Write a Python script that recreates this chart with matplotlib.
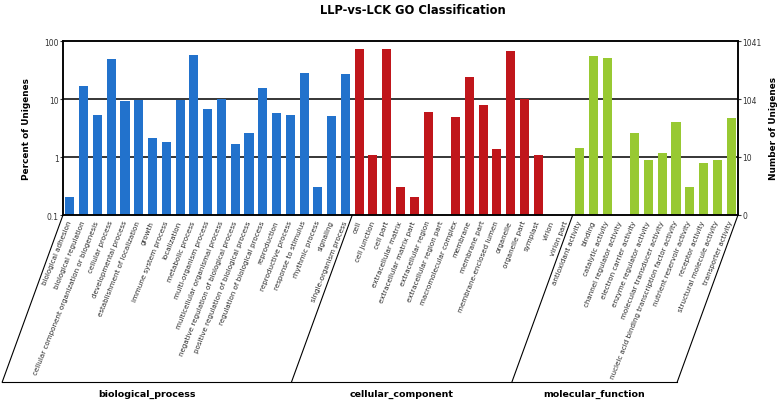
import numpy as np
import matplotlib
matplotlib.use("Agg")
from matplotlib import pyplot as plt
from matplotlib.lines import Line2D

plt.rcParams['font.family'] = ['DejaVu Sans']

total = 1041

bio_terms = ["biological adhesion", "biological regulation",
             "cellular component organization or biogenesis", "cellular process",
             "developmental process", "establishment of localization", "growth",
             "immune system process", "localization", "metabolic process",
             "multi-organism process", "multicellular organismal process",
             "negative regulation of biological process",
             "positive regulation of biological process",
             "regulation of biological process", "reproduction",
             "reproductive process", "response to stimulus", "rhythmic process",
             "signaling", "single-organism process"]
bio_counts = [2, 177, 54, 516, 97, 101, 22, 19, 101, 589, 69, 105, 17, 27,
              163, 60, 54, 292, 3, 52, 277]

cc_terms = ["cell", "cell junction", "cell part", "extracellular matrix",
            "extracellular matrix part", "extracellular region",
            "extracellular region part", "macromolecular complex", "membrane",
            "membrane part", "membrane-enclosed lumen", "organelle",
            "organelle part", "symplast", "virion", "virion part"]
cc_counts = [770, 11, 770, 3, 2, 63, 0, 50, 245, 82, 14, 708, 105, 11, 0, 0]

mf_terms = ["antioxidant activity", "binding", "catalytic activity",
            "channel regulator activity", "electron carrier activity",
            "enzyme regulator activity", "molecular transducer activity",
            "nucleic acid binding transcription factor activity",
            "nutrient reservoir activity", "receptor activity",
            "structural molecule activity", "transporter activity"]
mf_counts = [15, 566, 530, 0, 27, 9, 12, 41, 3, 8, 9, 48]

groups = ["biological_process", "cellular_component", "molecular_function"]
group_colors = ["#2272cc", "#c0161b", "#98c932"]

pct_ticks = [0.1, 1, 10, 100]
num_labels = ["0", "10", "104", "1041"]

W, H = 784, 406
fig = plt.figure(figsize=(W / 100, H / 100), dpi=100)
ax = fig.add_axes([63 / W, 1 - 216 / H, (738 - 63) / W, (216 - 42) / H])

terms = bio_terms + cc_terms + mf_terms
counts = np.array(bio_counts + cc_counts + mf_counts, dtype=float)
sizes = [len(bio_terms), len(cc_terms), len(mf_terms)]
colors = []
for c, n in zip(group_colors, sizes):
    colors += [c] * n

pct = counts / total * 100
pct = np.where(pct > 0, pct, np.nan)
x = np.arange(len(terms)) + 0.5

ax.set_yscale('log')
ax.bar(x, pct, width=0.66, color=colors, bottom=0.01)
ax.set_ylim(0.1, 100)
ax.set_xlim(0, len(terms))

for v in [1, 10]:
    ax.axhline(v, color='black', lw=1.1, zorder=0)

for s in ax.spines.values():
    s.set_linewidth(1.1)

ax.set_yticks(pct_ticks)
ax.set_yticklabels(["0.1", "1", "10", "100"])
ax.yaxis.set_minor_locator(matplotlib.ticker.NullLocator())
ax.tick_params(axis='y', labelsize=5.5, length=2, pad=1, colors='#333333')

ax.set_xticks(x)
ax.set_xticklabels(terms, rotation=68, ha='right', va='center',
                   rotation_mode='anchor', fontsize=5.1, color='#2a2a2a')
ax.tick_params(axis='x', length=0, pad=4)

ax2 = ax.twinx()
ax2.set_yscale('log')
ax2.set_ylim(0.1, 100)
ax2.set_yticks(pct_ticks)
ax2.set_yticklabels(num_labels)
ax2.yaxis.set_minor_locator(matplotlib.ticker.NullLocator())
ax2.tick_params(axis='y', labelsize=5.5, length=2, pad=1, colors='#333333')
for s in ax2.spines.values():
    s.set_linewidth(1.1)

# rahmen unter den beschriftungen
bounds = np.cumsum([0] + sizes)
y_top = 216
y_bot = 383
dx = (y_bot - y_top) / np.tan(np.radians(70))
xs_bot = []
for b in bounds:
    xp = 63 + b * (738 - 63) / len(terms)
    xb = xp - dx
    xs_bot.append(xb)
    fig.add_artist(Line2D([xp / W, xb / W], [1 - y_top / H, 1 - y_bot / H],
                          color='black', lw=0.8))
fig.add_artist(Line2D([xs_bot[0] / W, xs_bot[-1] / W],
                      [1 - y_bot / H, 1 - y_bot / H], color='black', lw=0.8))

for i, g in enumerate(groups):
    xc = (xs_bot[i] + xs_bot[i + 1]) / 2
    fig.text(xc / W, 1 - 394 / H, g, ha='center', va='center',
             fontsize=6.8, weight='bold')

fig.text(413 / W, 1 - 11 / H, "LLP-vs-LCK GO Classification", ha='center',
         va='center', fontsize=8.3, weight='bold')
fig.text(27 / W, 1 - 129 / H, "Percent of Unigenes", rotation=90, ha='center',
         va='center', fontsize=6.4, weight='bold')
fig.text(774 / W, 1 - 129 / H, "Number of Unigenes", rotation=90, ha='center',
         va='center', fontsize=6.4, weight='bold')

plt.savefig("out.png", dpi=100)
